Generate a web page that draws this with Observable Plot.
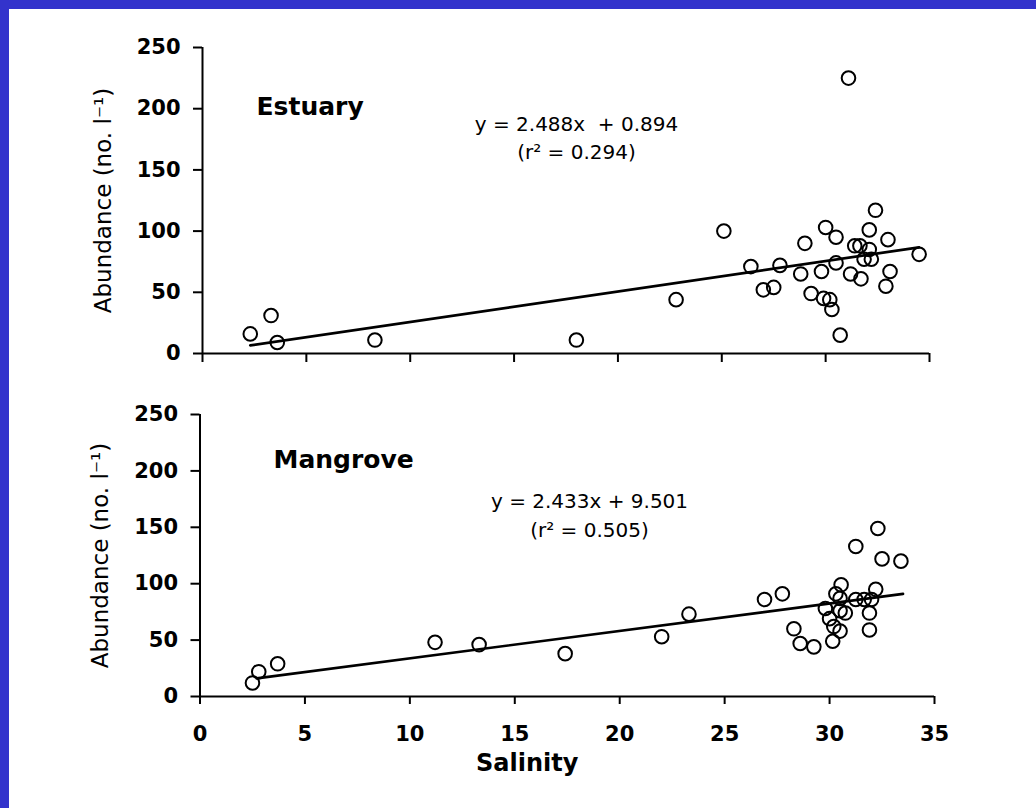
<!DOCTYPE html>
<html>
<head>
<meta charset="utf-8">
<script src="https://cdn.jsdelivr.net/npm/d3@7"></script>
<script src="https://cdn.jsdelivr.net/npm/@observablehq/plot@0.6"></script>
<style>
html, body { margin: 0; padding: 0; background: #fff; }
#page {
  position: relative; width: 1036px; height: 808px; background: #fff;
  border-left: 9px solid #3333cc; border-top: 9px solid #3333cc;
  box-sizing: border-box; overflow: hidden;
  font-family: "DejaVu Sans", sans-serif;
}
#top, #bottom { position: absolute; left: -9px; }
#top { top: -9px; }
#bottom { top: 371px; }
</style>
</head>
<body>
<div id="page"><div id="top"></div><div id="bottom"></div></div>
<script>
// ---- data ----
const xTicks = [0, 5, 10, 15, 20, 25, 30, 35];
const yTicks = [0, 50, 100, 150, 200, 250];

const estuarySalinity  = [2.3, 3.3, 3.6, 8.3, 18.0, 31.1, 25.1, 22.8, 26.4, 27.8, 27.0, 27.5, 29.0, 28.8, 29.8, 30.0, 30.5, 30.5, 29.3, 29.9, 30.2, 30.3, 30.7, 31.2, 31.7, 31.4, 31.65, 32.1, 31.85, 32.2, 32.4, 32.1, 33.0, 33.1, 32.9, 34.5];
const estuaryAbundance = [16, 31, 9, 11, 11, 225, 100, 44, 71, 72, 52, 54, 90, 65, 67, 103, 95, 74, 49, 45, 44, 36, 15, 65, 61, 88, 88, 85, 77, 77, 117, 101, 93, 67, 55, 81];

const mangroveSalinity  = [2.5, 2.8, 3.7, 11.2, 13.3, 17.4, 22.0, 23.3, 26.9, 27.75, 28.3, 28.6, 29.25, 29.8, 30.0, 30.2, 30.15, 30.5, 30.55, 30.3, 30.5, 30.5, 30.75, 31.25, 31.25, 31.65, 32.0, 32.2, 31.9, 31.9, 32.3, 32.5, 33.4];
const mangroveAbundance = [12, 22, 29, 48, 46, 38, 53, 73, 86, 91, 60, 47, 44, 78, 69, 62, 49, 58, 99, 91, 87, 76, 74, 133, 86, 86, 86, 95, 74, 59, 149, 122, 120];

// fitted lines as printed on the chart: y = slope*x + intercept, over the data range
const estuaryFit  = {slope: 2.488, intercept: 0.894, xRange: [2.3, 34.5]};
const mangroveFit = {slope: 2.433, intercept: 9.501, xRange: [2.7, 33.5]};

const panelNames = ["Estuary", "Mangrove"];
const equations = ["y = 2.488x  + 0.894\n(r² = 0.294)", "y = 2.433x + 9.501\n(r² = 0.505)"];
const yLabel = "Abundance (no. l⁻¹)";
const xLabel = "Salinity";

// ---- build ----
const toPoints = (xs, ys) => xs.map((x, i) => ({x, y: ys[i]}));
const fitLine = f => f.xRange.map(x => ({x, y: f.slope * x + f.intercept}));

const style = {background: "transparent", color: "black", fontFamily: "DejaVu Sans, sans-serif", overflow: "visible"};

function panel({points, fit, name, eq, m, showXLabels, nameDx, nameDy, eqDx, eqDy, eqLH, yLabDx, height}) {
  const marks = [
    Plot.axisY(yTicks, {anchor: "left", tickSize: 9, tickPadding: 13, fontSize: 21, fontWeight: "bold", strokeWidth: 2, label: null}),
    showXLabels
      ? Plot.axisX(xTicks, {anchor: "bottom", tickSize: 8, tickPadding: 22, fontSize: 21, fontWeight: "bold", strokeWidth: 2, label: null})
      : Plot.axisX(xTicks, {anchor: "bottom", tickSize: 9, tickFormat: () => "", strokeWidth: 2, label: null}),
    Plot.ruleX([0], {strokeWidth: 2}),
    Plot.ruleY([0], {strokeWidth: 2}),
    Plot.line(fitLine(fit), {x: "x", y: "y", stroke: "black", strokeWidth: 2.7}),
    Plot.dot(points, {x: "x", y: "y", r: 6.8, stroke: "black", strokeWidth: 2, fill: "none"}),
    Plot.text([name], {text: d => d, frameAnchor: "top-left", textAnchor: "start", lineAnchor: "bottom", dx: nameDx, dy: nameDy, fontSize: 25, fontWeight: "bold"}),
    Plot.text([eq], {text: d => d, frameAnchor: "top-left", textAnchor: "middle", lineAnchor: "bottom", dx: eqDx, dy: eqDy, lineHeight: eqLH, fontSize: 20, fontWeight: "normal"}),
    Plot.text([yLabel], {text: d => d, frameAnchor: "left", rotate: -90, textAnchor: "middle", lineAnchor: "top", dx: yLabDx, fontSize: 23, fontWeight: "normal"})
  ];
  if (showXLabels) {
    marks.push(Plot.text([xLabel], {text: d => d, frameAnchor: "bottom", lineAnchor: "bottom", dx: -40, dy: 74, fontSize: 24, fontWeight: "bold"}));
  }
  return Plot.plot({
    width: 1036, height,
    marginLeft: m[0], marginRight: m[1], marginTop: m[2], marginBottom: m[3],
    x: {domain: [0, 35]},
    y: {domain: [0, 250]},
    style,
    marks
  });
}

document.getElementById("top").append(panel({
  points: toPoints(estuarySalinity, estuaryAbundance), fit: estuaryFit,
  name: panelNames[0], eq: equations[0],
  m: [202, 107, 47, 27], height: 380, showXLabels: false,
  nameDx: 54, nameDy: 67, eqDx: 374, eqDy: 111, eqLH: 1.4, yLabDx: -108
}));

document.getElementById("bottom").append(panel({
  points: toPoints(mangroveSalinity, mangroveAbundance), fit: mangroveFit,
  name: panelNames[1], eq: equations[1],
  m: [199.5, 102, 34, 112], height: 428, showXLabels: true,
  nameDx: 73.5, nameDy: 53, eqDx: 389.5, eqDy: 122, eqLH: 1.45, yLabDx: -108.5
}));
</script>
</body>
</html>
